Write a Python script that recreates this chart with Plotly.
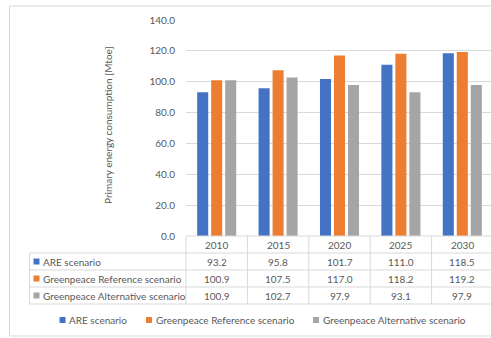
import plotly.graph_objects as go

# Scenario data (Mtoe)
years = ["2010", "2015", "2020", "2025", "2030"]
series_names = [
    "ARE scenario",
    "Greenpeace Reference scenario",
    "Greenpeace Alternative scenario",
]
are_values = [93.2, 95.8, 101.7, 111.0, 118.5]
gp_reference_values = [100.9, 107.5, 117.0, 118.2, 119.2]
gp_alternative_values = [100.9, 102.7, 97.9, 93.1, 97.9]
y_ticks = [0, 20, 40, 60, 80, 100, 120, 140]

series_values = [are_values, gp_reference_values, gp_alternative_values]
colors = ["#4472C4", "#ED7D31", "#A5A5A5"]

W, H = 491, 338
ML, MR, MT, MB = 186, 0, 20, 102
PW = W - ML - MR
PH = H - MT - MB
TXT = "#595959"
LINE = "#D9D9D9"
FONT = "Lato"


def px(x):
    return (x - ML) / PW


def py(y):
    return (H - MB - y) / PH


def text_font():
    return dict(size=10, color=TXT, family=FONT)


fig = go.Figure()
for name, vals, col in zip(series_names, series_values, colors):
    fig.add_trace(go.Bar(x=years, y=vals, name=name, marker_color=col,
                         marker_line_width=0, showlegend=False))

shapes = []
annotations = []

# outer chart border
shapes.append(dict(type="rect", xref="paper", yref="paper",
                   x0=px(9.5), x1=px(W + 5), y0=py(336), y1=py(6),
                   line=dict(color=LINE, width=1)))

# data table grid
row_lines = [253, 270, 287, 304]
col_w = 61.4
for yl in row_lines:
    shapes.append(dict(type="line", xref="paper", yref="paper",
                       x0=px(29.5), x1=px(W + 5), y0=py(yl), y1=py(yl),
                       line=dict(color=LINE, width=1)))
shapes.append(dict(type="line", xref="paper", yref="paper",
                   x0=px(29.5), x1=px(29.5), y0=py(253), y1=py(304),
                   line=dict(color=LINE, width=1)))
for i in range(len(years)):
    xl = 186 + i * col_w
    shapes.append(dict(type="line", xref="paper", yref="paper",
                       x0=px(xl), x1=px(xl), y0=py(236), y1=py(304),
                       line=dict(color=LINE, width=1)))
shapes.append(dict(type="line", xref="paper", yref="paper",
                   x0=px(186), x1=px(W + 5), y0=py(236), y1=py(236),
                   line=dict(color=LINE, width=1)))

# header row (years)
for i, yr in enumerate(years):
    annotations.append(dict(x=i, y=py(244.5), xref="x", yref="paper",
                            text=yr, showarrow=False,
                            xanchor="center", yanchor="middle",
                            font=text_font()))

# series rows
row_centers = [261.5, 278.5, 295.5]
for name, vals, col, yc in zip(series_names, series_values, colors, row_centers):
    shapes.append(dict(type="rect", xref="paper", yref="paper",
                       x0=px(33.5), x1=px(39.5), y0=py(yc + 3), y1=py(yc - 3),
                       fillcolor=col, line=dict(width=0)))
    annotations.append(dict(x=px(41), y=py(yc), xref="paper", yref="paper",
                            text=name, showarrow=False,
                            xanchor="left", yanchor="middle",
                            font=text_font()))
    for i, v in enumerate(vals):
        annotations.append(dict(x=i, y=py(yc), xref="x", yref="paper",
                                text=f"{v:.1f}", showarrow=False,
                                xanchor="center", yanchor="middle",
                                font=text_font()))

# legend below the table
legend_keys = [59.5, 146, 313]
for name, col, kx in zip(series_names, colors, legend_keys):
    shapes.append(dict(type="rect", xref="paper", yref="paper",
                       x0=px(kx), x1=px(kx + 6), y0=py(323), y1=py(317),
                       fillcolor=col, line=dict(width=0)))
    annotations.append(dict(x=px(kx + 7.5), y=py(320), xref="paper", yref="paper",
                            text=name, showarrow=False,
                            xanchor="left", yanchor="middle",
                            font=text_font()))

# y-axis title
annotations.append(dict(x=px(108), y=py(125), xref="paper", yref="paper",
                        text="Primary energy consumption [Mtoe]",
                        showarrow=False, textangle=-90,
                        xanchor="center", yanchor="middle",
                        font=text_font()))

fig.update_layout(
    width=W, height=H,
    margin=dict(l=ML, r=MR, t=MT, b=MB, pad=0),
    paper_bgcolor="white", plot_bgcolor="white",
    barmode="group", bargap=0.316, bargroupgap=0.21,
    font=dict(family=FONT, size=10, color=TXT),
    xaxis=dict(type="category", range=[-0.5, (W - ML) / col_w - 0.5],
               showticklabels=False, showgrid=False, zeroline=False,
               showline=False, ticks=""),
    yaxis=dict(range=[0, 140], tickvals=y_ticks,
               ticktext=[f"{t:.1f}" for t in y_ticks],
               showgrid=True, gridcolor=LINE, gridwidth=1,
               zeroline=False, showline=False, ticks="",
               ticklabelstandoff=10,
               tickfont=text_font()),
    shapes=shapes,
    annotations=annotations,
)

fig.write_html("out.html")
